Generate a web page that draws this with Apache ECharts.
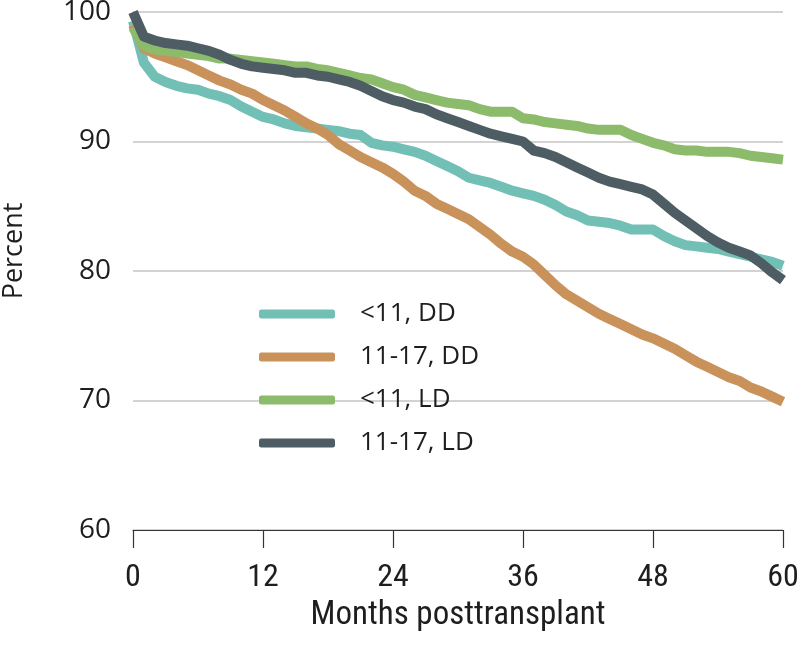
<!DOCTYPE html>
<html>
<head>
<meta charset="utf-8">
<script src="https://cdn.jsdelivr.net/npm/echarts@6/dist/echarts.min.js"></script>
<style>
html,body{margin:0;padding:0;background:#fff;}
#chart{width:800px;height:659px;}
</style>
</head>
<body>
<div id="chart"></div>
<script>
const months = [0,1,2,3,4,5,6,7,8,9,10,11,12,13,14,15,16,17,18,19,20,21,22,23,24,25,26,27,28,29,30,31,32,33,34,35,36,37,38,39,40,41,42,43,44,45,46,47,48,49,50,51,52,53,54,55,56,57,58,59,60];
const seriesNames = ['<11, DD', '11-17, DD', '<11, LD', '11-17, LD'];
const under11DD = [99.3,96.1,95.0,94.6,94.3,94.1,94.0,93.7,93.5,93.2,92.7,92.3,91.9,91.7,91.4,91.2,91.1,91.0,90.9,90.8,90.6,90.5,89.9,89.7,89.6,89.4,89.2,88.9,88.5,88.1,87.7,87.2,87.0,86.8,86.5,86.2,86.0,85.8,85.5,85.1,84.6,84.3,83.9,83.8,83.7,83.5,83.2,83.2,83.2,82.7,82.3,82.0,81.9,81.8,81.7,81.5,81.3,81.1,80.9,80.7,80.4];
const age11to17DD = [99.0,97.2,96.8,96.5,96.2,95.9,95.5,95.1,94.7,94.4,94.0,93.7,93.2,92.8,92.4,91.9,91.4,91.0,90.5,89.8,89.3,88.8,88.4,88.0,87.5,86.9,86.2,85.8,85.2,84.8,84.4,84.0,83.4,82.8,82.1,81.5,81.1,80.5,79.7,78.9,78.2,77.7,77.2,76.7,76.3,75.9,75.5,75.1,74.8,74.4,74.0,73.5,73.0,72.6,72.2,71.8,71.5,71.0,70.7,70.3,69.9];
const under11LD = [98.8,97.4,97.1,97.0,96.9,96.8,96.7,96.6,96.4,96.4,96.3,96.2,96.1,96.0,95.9,95.8,95.8,95.6,95.5,95.3,95.1,94.9,94.8,94.5,94.2,94.0,93.6,93.4,93.2,93.0,92.9,92.8,92.5,92.3,92.3,92.3,91.8,91.7,91.5,91.4,91.3,91.2,91.0,90.9,90.9,90.9,90.5,90.2,89.9,89.7,89.4,89.3,89.3,89.2,89.2,89.2,89.1,88.9,88.8,88.7,88.6];
const age11to17LD = [100.0,98.1,97.8,97.6,97.5,97.4,97.2,97.0,96.7,96.3,96.0,95.8,95.7,95.6,95.5,95.3,95.3,95.1,95.0,94.8,94.6,94.3,93.9,93.5,93.2,93.0,92.7,92.5,92.1,91.8,91.5,91.2,90.9,90.6,90.4,90.2,90.0,89.3,89.1,88.8,88.4,88.0,87.6,87.2,86.9,86.7,86.5,86.3,85.9,85.2,84.5,83.9,83.3,82.7,82.2,81.8,81.5,81.2,80.6,79.9,79.3];
const xTicks = [0,12,24,36,48,60];
const yTicks = [60,70,80,90,100];

const colors = ['#72c0b5', '#c8925a', '#8cbb6c', '#4e5d64'];
const allValues = [under11DD, age11to17DD, under11LD, age11to17LD];
const FONT = '"Open Sans", Roboto, sans-serif';
const NARROW = '"Liberation Sans Narrow", "Roboto Condensed", Roboto, sans-serif';
const TEXT = '#1e1e1e';

const chart = echarts.init(document.getElementById('chart'), null, {renderer: 'canvas'});
chart.setOption({
  animation: false,
  backgroundColor: '#fff',
  color: colors,
  grid: {left: 133, right: 17, top: 12, bottom: 129, containLabel: false, outerBoundsMode: 'none'},
  legend: {
    orient: 'vertical',
    left: 254,
    top: 293,
    itemWidth: 76,
    itemHeight: 9,
    itemGap: 11,
    icon: 'roundRect',
    data: seriesNames,
    textStyle: {fontFamily: FONT, fontSize: 26, color: TEXT, lineHeight: 32, padding: [0,0,0,20]}
  },
  xAxis: {
    type: 'value',
    min: xTicks[0], max: xTicks[xTicks.length-1], interval: 12,
    name: 'Months posttransplant',
    nameLocation: 'middle',
    nameGap: 63,
    nameTextStyle: {fontFamily: NARROW, fontSize: 33, color: TEXT},
    axisLine: {show: true, lineStyle: {color: '#333', width: 1.2}},
    axisTick: {show: true, length: 18, lineStyle: {color: '#333', width: 1.2}},
    axisLabel: {fontFamily: NARROW, fontSize: 32, color: TEXT, margin: 32},
    splitLine: {show: false}
  },
  yAxis: {
    type: 'value',
    min: yTicks[0], max: yTicks[yTicks.length-1], interval: 10,
    name: 'Percent',
    nameLocation: 'middle',
    nameGap: 105,
    nameRotate: 90,
    nameTextStyle: {fontFamily: FONT, fontSize: 27, color: TEXT, padding: [0,0,0,40]},
    axisLine: {show: false},
    axisTick: {show: false},
    axisLabel: {fontFamily: FONT, fontSize: 28, color: TEXT, margin: 22},
    splitLine: {show: true, lineStyle: {color: '#c4c4c4', width: 1.5}}
  },
  series: seriesNames.map((n, i) => ({
    name: n,
    type: 'line',
    showSymbol: false,
    symbol: 'none',
    smooth: false,
    lineStyle: {width: 10, color: colors[i], join: 'round', cap: 'butt'},
    itemStyle: {color: colors[i]},
    data: months.map((m, j) => [m, allValues[i][j]])
  }))
});
</script>
</body>
</html>
